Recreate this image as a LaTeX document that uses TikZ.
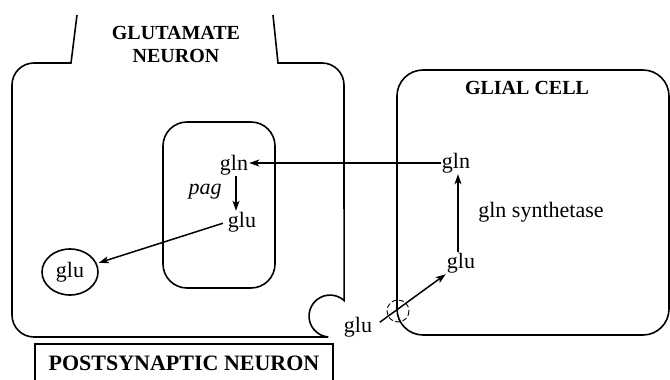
\documentclass[tikz,border=0pt]{standalone}
\usepackage{fontspec}
\setmainfont{Liberation Serif}
\usetikzlibrary{arrows.meta,shapes.geometric}
\begin{document}
\begin{tikzpicture}[x=1pt,y=-1pt,
  cell/.style={line width=1.6pt},
  lbl/.style={inner sep=1pt, font=\fontsize{22}{24}\selectfont},
  ttl/.style={inner sep=1pt, font=\bfseries\fontsize{20}{23}\selectfont, align=center},
  arr/.style={line width=1.5pt, -{Stealth[length=10pt,width=7pt,inset=2.5pt]}},
  thinarr/.style={line width=1.1pt, -{Stealth[length=10pt,width=7pt,inset=2.5pt]}}]
\clip (0,0) rectangle (670,380);
\fill[white] (0,0) rectangle (670,380);
% glutamate neuron outline
\draw[cell] (77,15) -- (71,63) -- (34,63)
  .. controls (21.8,63) and (12,72.8) .. (12,85) -- (12,315)
  .. controls (12,327.2) and (21.8,337) .. (34,337) -- (328.2,337)
  arc[start angle=95, end angle=312, radius=21] -- (344,85)
  .. controls (344,72.8) and (334.2,63) .. (322,63) -- (278,63) -- (273,15);
\node[ttl] (gn) at (176,44) {GLUTAMATE\\NEURON};
% inner compartment
\node[cell, draw, rounded corners=24pt, minimum width=112pt, minimum height=166pt] (term) at (219,205) {};
% glial cell
\node[cell, draw, rounded corners=26pt, minimum width=272pt, minimum height=265pt] (glial) at (533,202.5) {};
\node[ttl] (gc) at (527,88) {GLIAL CELL};
% postsynaptic neuron
\node[cell, draw, minimum width=298pt, minimum height=38pt, inner sep=0pt,
  font=\bfseries\fontsize{22}{24}\selectfont] (post) at (184,363) {POSTSYNAPTIC NEURON};
% labels
\node[lbl] (gln1) at (234,165) {gln};
\node[lbl] (pag) at (205,192) {\itshape pag};
\node[lbl] (glu1) at (242,222) {glu};
\node[cell, draw, ellipse, minimum width=56pt, minimum height=46pt, inner sep=0pt,
  font=\fontsize{22}{24}\selectfont] (gluc) at (70,272) {glu};
\node[lbl] (gln2) at (456,163) {gln};
\node[lbl] (syn) at (541,212) {gln synthetase};
\node[lbl] (glu2) at (461,263) {glu};
\node[lbl] (glu3) at (358,327) {glu};
\coordinate (blk) at (398,311);
% arrows
\draw[thinarr] (gln2.west) -- (gln2.west -| gln1.east);
\draw[arr] ([xshift=2pt]gln1.south) -- ([xshift=2pt]gln1.south |- glu1.north);
\draw[arr, shorten <=4pt, shorten >=2pt] (glu1.west) -- (gluc);
\draw[arr] ([xshift=2pt]gln2.south |- glu2.north) -- ([xshift=2pt]gln2.south);
\draw[arr, shorten <=8pt] (glu3.east) -- (glu2.south west);
% blocked transport mark
\draw[line width=0.9pt, dash pattern=on 5pt off 2.5pt] (blk) circle[radius=11];
\end{tikzpicture}
\end{document}
